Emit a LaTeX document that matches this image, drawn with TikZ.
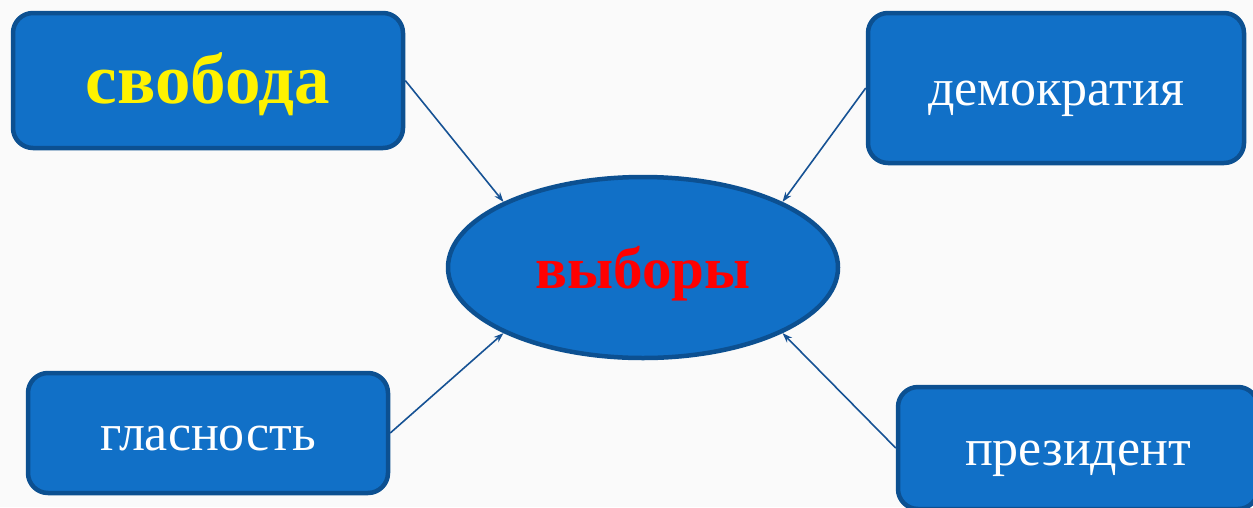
\documentclass[tikz,border=0pt]{standalone}
\usepackage{fontspec}
\setmainfont{Liberation Serif}
\usepackage{tikz}
\usetikzlibrary{shapes.geometric, arrows.meta}

\definecolor{boxfill}{RGB}{17,112,199}
\definecolor{boxline}{RGB}{12,80,145}
\definecolor{arrline}{RGB}{22,82,148}
\definecolor{bgcol}{RGB}{250,250,250}

\tikzset{
    wordbox/.style={rectangle, rounded corners=20pt, draw=boxline, line width=4.5pt, fill=boxfill, text=white, text height=34pt, text depth=0pt, font=\fontsize{52}{60}\selectfont},
    hub/.style={ellipse, draw=boxline, line width=4.5pt, fill=boxfill, inner sep=0pt, text height=41pt, text depth=0pt},
    link/.style={draw=arrline, line width=1.6pt, -{Stealth[length=10pt, width=7pt]}}
}

\begin{document}
\begin{tikzpicture}[x=1pt, y=-1pt]
    % Background
    \useasboundingbox (0,0) rectangle (1253,507);
    \fill[bgcol] (0,0) rectangle (1253,507);

    % Center node
    \node[hub, minimum width=390pt, minimum height=181pt, text=red, font=\fontsize{59}{70}\selectfont\bfseries] (VYB) at (643,267.5) {выборы};

    % Outer boxes
    \node[wordbox, minimum width=390pt, minimum height=135pt, text=yellow, text height=45pt, font=\fontsize{71}{80}\selectfont\bfseries] (SVOB) at (208,80.5) {свобода};
    \node[wordbox, minimum width=376pt, minimum height=150pt] (DEMO) at (1056,88) {демократия};
    \node[wordbox, minimum width=360pt, minimum height=120pt] (GLAS) at (208,433) {гласность};
    \node[wordbox, minimum width=360pt, minimum height=122pt] (PRES) at (1078,448) {президент};

    % Connections
    \draw[link] (SVOB.east) -- (VYB.north west);
    \draw[link] (DEMO.west) -- (VYB.north east);
    \draw[link] (GLAS.east) -- (VYB.south west);
    \draw[link] (PRES.west) -- (VYB.south east);
\end{tikzpicture}
\end{document}
